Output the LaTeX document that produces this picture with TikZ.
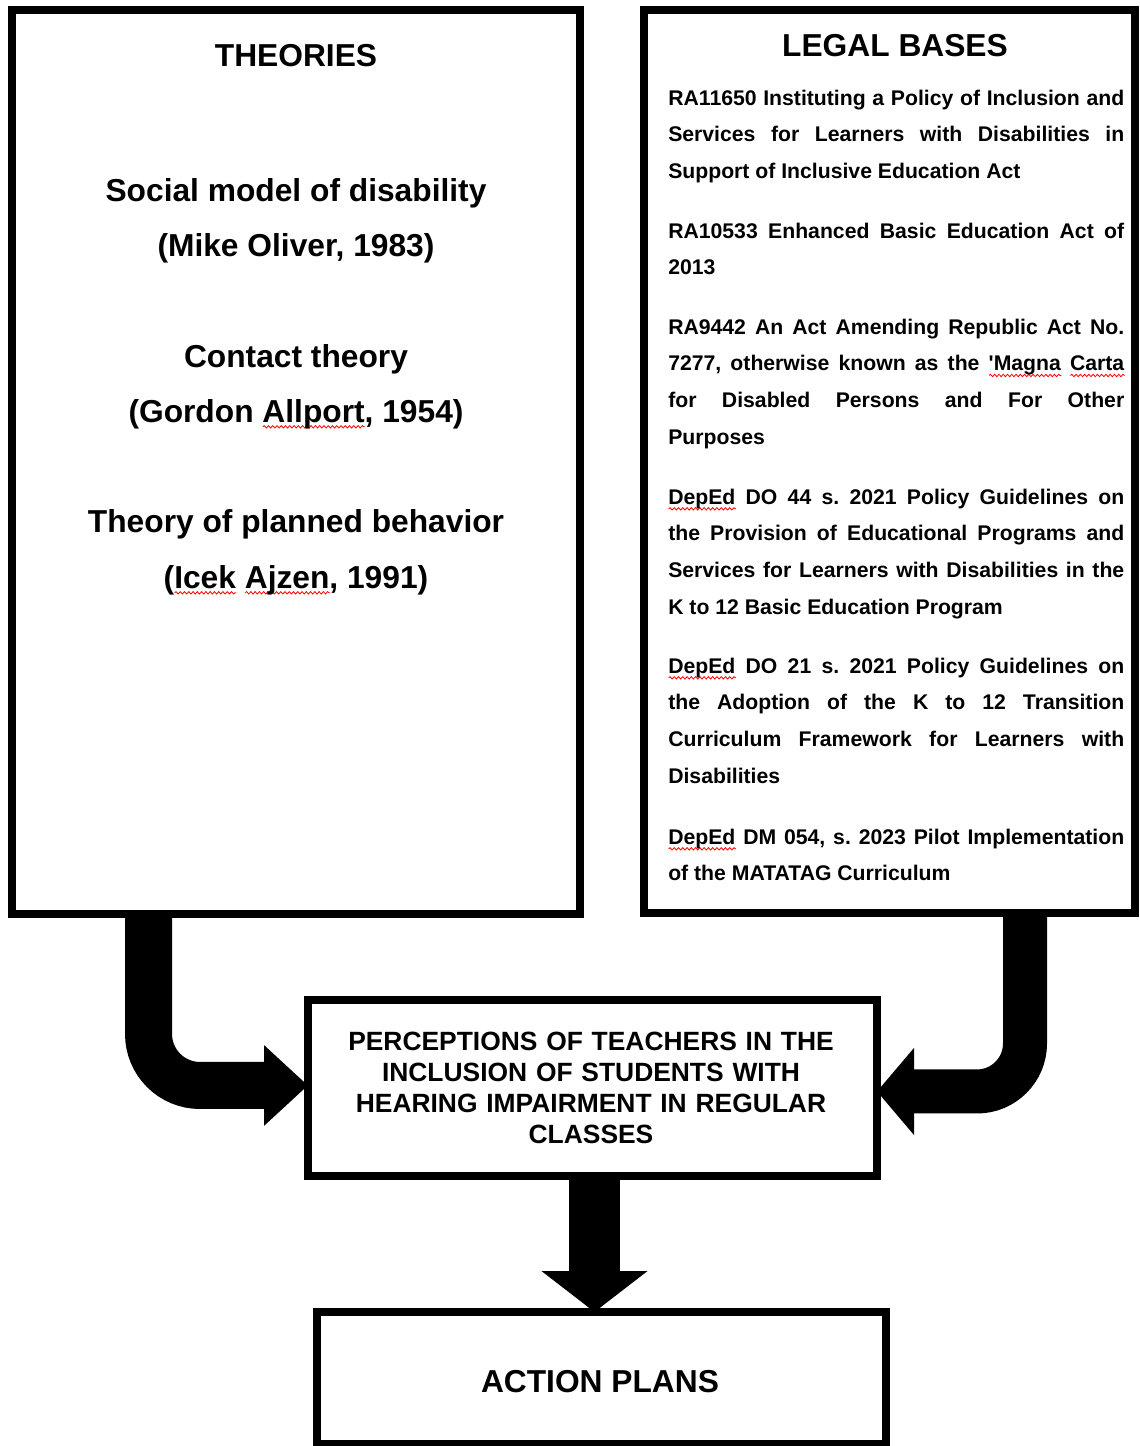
\documentclass[tikz,border=0pt]{standalone}
\usepackage{fontspec}
\setmainfont{Liberation Sans}
\usetikzlibrary{arrows.meta,decorations.pathmorphing}
\newcommand\rwave[1]{\setbox0\hbox{#1}\rlap{\tikz[baseline=0pt,x=1pt,y=1pt]\draw[red,line width=0.6pt,decorate,decoration={snake,amplitude=0.9pt,segment length=3.2pt}] (0,-3.6) -- (\the\wd0,-3.6);}\box0\relax}
\frenchspacing
\begin{document}
\begin{tikzpicture}[x=0.75pt,y=-0.75pt,
  box/.style={draw=black, line width=6pt, inner sep=0pt, outer sep=0pt},
  ttl/.style={font=\fontsize{23.8pt}{28pt}\selectfont\bfseries, anchor=base, inner sep=0pt},
  legal/.style={font=\fontsize{15.9pt}{27.5pt}\selectfont\bfseries, anchor=base west, inner sep=0pt, text width=342pt, align=justify},
  midtext/.style={font=\fontsize{19.8pt}{23.25pt}\selectfont\bfseries, anchor=base, inner sep=0pt, text width=405pt, align=center},
  acttext/.style={font=\fontsize{23.8pt}{28pt}\selectfont\bfseries, anchor=base, inner sep=0pt},
  fatL/.style={line width=35.25pt, rounded corners=38.6pt, -{Triangle[length=33pt,width=58.5pt]}},
  fatR/.style={line width=33pt, rounded corners=36pt, -{Triangle[length=27.75pt,width=63.75pt]}},
  fatD/.style={line width=38.25pt, -{Triangle[length=30.75pt,width=78pt]}}
]
\useasboundingbox (0,0) rectangle (1139,1446);
\fill[white] (0,0) rectangle (1139,1446);

% boxes
\node[box, minimum width=426pt, minimum height=678pt] (theories) at (296,462) {};
\node[box, minimum width=368.25pt, minimum height=677.25pt] (legal) at (889.5,461.5) {};
\node[box, minimum width=426.75pt, minimum height=132pt] (mid) at (592.5,1088) {};
\node[box, minimum width=426.75pt, minimum height=99pt] (action) at (601.5,1378) {};

% theories texts
\node[ttl] (th) at (296,66) {THEORIES};
\node[ttl] (t1a) at (296,201) {Social model of disability};
\node[ttl] (t1b) at (296,256) {(Mike Oliver, 1983)};
\node[ttl] (t2a) at (296,367) {Contact theory};
\node[ttl] (t2b) at (296,422) {(Gordon \rwave{Allport}, 1954)};
\node[ttl] (t3a) at (296,532) {Theory of planned behavior};
\node[ttl] (t3b) at (296,588) {(\rwave{Icek} \rwave{Ajzen}, 1991)};

% legal texts
\node[ttl] (lb) at (895,56) {LEGAL BASES};
\node[legal] (l1) at (668,105) {RA11650 Instituting a Policy of Inclusion and\linebreak Services for Learners with Disabilities in\linebreak Support of Inclusive Education Act};
\node[legal] (l2) at (668,238) {RA10533 Enhanced Basic Education Act of\linebreak 2013};
\node[legal] (l3) at (668,334) {RA9442 An Act Amending Republic Act No.\linebreak 7277, otherwise known as the \rwave{\textquotesingle Magna} \rwave{Carta}\linebreak for Disabled Persons and For Other\linebreak Purposes};
\node[legal] (l4) at (668,504) {\rwave{DepEd} DO 44 s. 2021 Policy Guidelines on\linebreak the Provision of Educational Programs and\linebreak Services for Learners with Disabilities in the\linebreak K to 12 Basic Education Program};
\node[legal] (l5) at (668,673) {\rwave{DepEd} DO 21 s. 2021 Policy Guidelines on\linebreak the Adoption of the K to 12 Transition\linebreak Curriculum Framework for Learners with\linebreak Disabilities};
\node[legal] (l6) at (668,844) {\rwave{DepEd} DM 054, s. 2023 Pilot Implementation\linebreak of the MATATAG Curriculum};

% middle and action texts
\node[midtext] (mt) at (591,1050.5) {PERCEPTIONS OF TEACHERS IN THE\\ INCLUSION OF STUDENTS WITH\\ HEARING IMPAIRMENT IN REGULAR\\ CLASSES};
\node[acttext] (at) at (600,1392) {ACTION PLANS};

% arrows
\draw[fatL] ([xshift=102.4pt]theories.south west) |- ([yshift=1.9pt]mid.west);
\draw[fatR] ([xshift=285.75pt]legal.south west) |- ([yshift=-2.6pt]mid.east);
\draw[fatD] ([xshift=1.5pt]mid.south) -- ([xshift=1.5pt]mid.south |- action.north);
\end{tikzpicture}
\end{document}
